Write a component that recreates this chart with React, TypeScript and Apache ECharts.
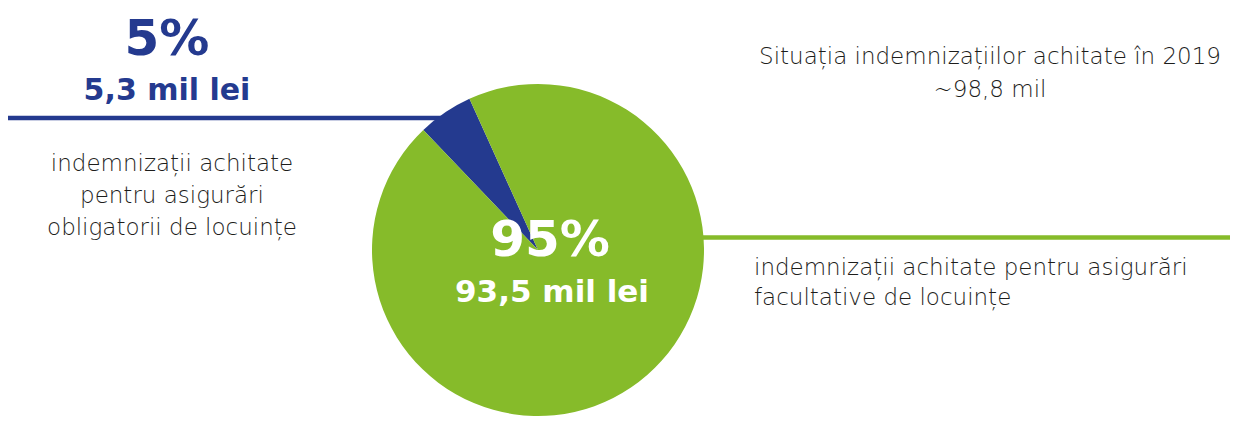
import React, { useEffect, useRef } from "react";
import * as echarts from "echarts";

const categories = ["obligatorii", "facultative"];
const values = [5.3, 93.5];
const percents = ["5%", "95%"];
const amountLabels = ["5,3 mil lei", "93,5 mil lei"];
const descriptions = [
  "indemnizații achitate\npentru asigurări\nobligatorii de locuințe",
  "indemnizații achitate pentru asigurări\nfacultative de locuințe",
];
const titleLines = ["Situația indemnizațiilor achitate în 2019", "~98,8 mil"];

const BLUE = "#243a8f";
const GREEN = "#86bb2a";
const TEXT = "#1d1d1b";
const FONT = "'DejaVu Sans', 'Open Sans', sans-serif";

export default function App() {
  const ref = useRef<HTMLDivElement>(null);
  useEffect(() => {
    document.body.style.margin = "0";
    const chart = echarts.init(ref.current!, undefined, { renderer: "svg" });
    chart.setOption({
      animation: false,
      backgroundColor: "#ffffff",
      series: [
        {
          type: "pie",
          center: [538, 250],
          radius: 166,
          startAngle: 133.7,
          clockwise: true,
          label: { show: false },
          labelLine: { show: false },
          silent: true,
          data: categories.map((c, i) => ({
            name: c,
            value: values[i],
            itemStyle: { color: i === 0 ? BLUE : GREEN },
          })),
        },
      ],
      graphic: [
        { type: "line", shape: { x1: 8, y1: 118, x2: 445, y2: 118 }, style: { stroke: BLUE, lineWidth: 4.5 }, z: 0 },
        { type: "line", shape: { x1: 700, y1: 237.5, x2: 1230, y2: 237.5 }, style: { stroke: GREEN, lineWidth: 4.5 }, z: 0 },
        {
          type: "text", x: 167, y: 38, z: 10,
          style: { text: percents[0], fill: BLUE, font: `bold 50px ${FONT}`, lineHeight: 50, textAlign: "center", textVerticalAlign: "middle" },
        },
        {
          type: "text", x: 167, y: 89, z: 10,
          style: { text: amountLabels[0], fill: BLUE, font: `bold 30px ${FONT}`, lineHeight: 30, textAlign: "center", textVerticalAlign: "middle" },
        },
        {
          type: "text", x: 172, y: 195, z: 10,
          style: { text: descriptions[0], fill: TEXT, font: `200 23px ${FONT}`, lineHeight: 32, textAlign: "center", textVerticalAlign: "middle" },
        },
        {
          type: "text", x: 550, y: 239, z: 10,
          style: { text: percents[1], fill: "#ffffff", font: `bold 50px ${FONT}`, lineHeight: 50, textAlign: "center", textVerticalAlign: "middle" },
        },
        {
          type: "text", x: 552, y: 291, z: 10,
          style: { text: amountLabels[1], fill: "#ffffff", font: `bold 31px ${FONT}`, lineHeight: 31, textAlign: "center", textVerticalAlign: "middle" },
        },
        {
          type: "text", x: 990, y: 72, z: 10,
          style: { text: titleLines.join("\n"), fill: TEXT, font: `200 23px ${FONT}`, lineHeight: 33, textAlign: "center", textVerticalAlign: "middle" },
        },
        {
          type: "text", x: 754, y: 282, z: 10,
          style: { text: descriptions[1], fill: TEXT, font: `200 23px ${FONT}`, lineHeight: 30, textAlign: "left", textVerticalAlign: "middle" },
        },
      ],
    });
    return () => chart.dispose();
  }, []);
  return <div ref={ref} style={{ width: 1238, height: 422 }} />;
}
